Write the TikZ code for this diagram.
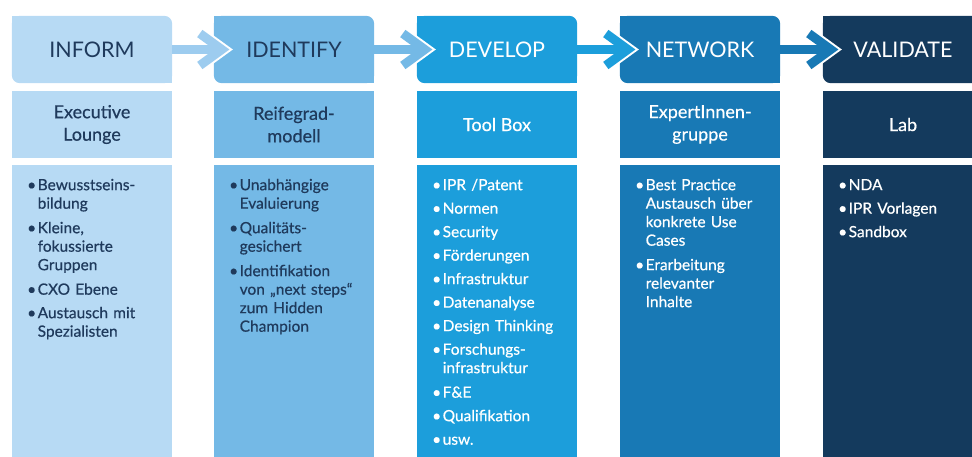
\documentclass[tikz,border=0pt]{standalone}
\usepackage{fontspec}
\setmainfont{Lato}
\newfontfamily\medfont{Lato}[FakeBold=0.5]

\definecolor{ink}{HTML}{1F3A5C}
\definecolor{cA}{HTML}{B7DAF4}
\definecolor{cB}{HTML}{74B9E6}
\definecolor{cC}{HTML}{1C9EDB}
\definecolor{cD}{HTML}{1879B5}
\definecolor{cE}{HTML}{143A5D}
\definecolor{arrA}{HTML}{9DCCEF}

% one bullet item: bullet box plus a top-aligned box holding its lines
\newcommand\bitem[1]{\par\noindent\makebox[10.5pt][l]{\textbullet}%
  \parbox[t]{135pt}{\raggedright\strut #1\strut}}

% header tile: rounded top-right and bottom-left corners
\newcommand\hdrtile[2]{%
  \fill[#2, rounded corners=8pt] (#1.north west) rectangle (#1.south east);
  \fill[#2] (#1.north west) rectangle ([xshift=10pt,yshift=-10pt]#1.north west);
  \fill[#2] (#1.south east) rectangle ([xshift=-10pt,yshift=10pt]#1.south east);
}

% connector: bar plus chevron with a white halo
\newcommand\flowarrow[3]{%
  \coordinate (#1tip) at ([xshift=8pt]#2.west);
  \draw[white, line width=13pt, miter limit=10] ([xshift=-22pt,yshift=16pt]#1tip) -- (#1tip) -- ([xshift=-22pt,yshift=-16pt]#1tip);
  \draw[#3, line width=9pt] (#1.east) -- ([xshift=-3pt]#1tip);
  \draw[#3, line width=9pt, miter limit=10] ([xshift=-22pt,yshift=16pt]#1tip) -- (#1tip) -- ([xshift=-22pt,yshift=-16pt]#1tip);
}

\tikzset{
  hdr/.style={minimum width=160pt, minimum height=67pt, inner sep=0pt,
    font=\fontsize{21.5}{24}\selectfont},
  midbox/.style={minimum width=160pt, minimum height=67.5pt, inner sep=0pt,
    align=center, font=\medfont\fontsize{18}{22.5}\selectfont},
  bodytext/.style={anchor=north west, inner sep=0pt, text width=150pt,
    align=left, font=\medfont\fontsize{15.5}{18.5}\selectfont\setlength\parskip{5pt}},
}

\begin{document}
\begin{tikzpicture}[x=1pt,y=-1pt]
\useasboundingbox (0,0) rectangle (972,456);
\clip (0,0) rectangle (972,456);

% column bodies
\fill[cA] (12,165) rectangle (172,460);
\fill[cB] (214,165) rectangle (374,460);
\fill[cC] (417,165) rectangle (577,460);
\fill[cD] (620,165) rectangle (780,460);
\fill[cE] (823,165) rectangle (983,460);

% header anchors
\node[hdr] (h1) at (92,49.5) {};
\node[hdr] (h2) at (294,49.5) {};
\node[hdr] (h3) at (497,49.5) {};
\node[hdr] (h4) at (700,49.5) {};
\node[hdr] (h5) at (903,49.5) {};

\hdrtile{h1}{cA}
\hdrtile{h2}{cB}
\hdrtile{h3}{cC}
\hdrtile{h4}{cD}
\hdrtile{h5}{cE}

\node[hdr, text=ink] at (h1) {INFORM};
\node[hdr, text=ink] at (h2) {IDENTIFY};
\node[hdr, text=white] at (h3) {DEVELOP};
\node[hdr, text=white] at (h4) {NETWORK};
\node[hdr, text=white] at (h5) {VALIDATE};

\flowarrow{h1}{h2}{arrA}
\flowarrow{h2}{h3}{cB}
\flowarrow{h3}{h4}{cC}
\flowarrow{h4}{h5}{cD}

% second row
\node[midbox, fill=cA, text=ink] (m1) at (92,124.5) {Executive\\Lounge};
\node[midbox, fill=cB, text=ink] (m2) at (294,124.5) {Reifegrad-\\modell};
\node[midbox, fill=cC, text=white] (m3) at (497,124.5) {Tool Box};
\node[midbox, fill=cD, text=white] (m4) at (700,124.5) {ExpertInnen-\\gruppe};
\node[midbox, fill=cE, text=white] (m5) at (903,124.5) {Lab};

% bullet lists
\node[bodytext, text=ink] (b1) at (27,166.5) {%
  \bitem{Bewusstseins-\\bildung}
  \bitem{Kleine,\\fokussierte\\Gruppen}
  \bitem{CXO Ebene}
  \bitem{Austausch mit\\Spezialisten}};
\node[bodytext, text=ink] (b2) at (229,166.5) {%
  \bitem{Unabhängige\\Evaluierung}
  \bitem{Qualitäts-\\gesichert}
  \bitem{Identifikation\\von „next steps“\\zum Hidden\\Champion}};
\node[bodytext, text=white] (b3) at (432,166.5) {%
  \bitem{IPR /Patent}
  \bitem{Normen}
  \bitem{Security}
  \bitem{Förderungen}
  \bitem{Infrastruktur}
  \bitem{Datenanalyse}
  \bitem{Design Thinking}
  \bitem{Forschungs-\\infrastruktur}
  \bitem{F\&E}
  \bitem{Qualifikation}
  \bitem{usw.}};
\node[bodytext, text=white] (b4) at (635,166.5) {%
  \bitem{Best Practice\\Austausch über\\konkrete Use\\Cases}
  \bitem{Erarbeitung\\relevanter\\Inhalte}};
\node[bodytext, text=white] (b5) at (838,166.5) {%
  \bitem{NDA}
  \bitem{IPR Vorlagen}
  \bitem{Sandbox}};
\end{tikzpicture}
\end{document}
